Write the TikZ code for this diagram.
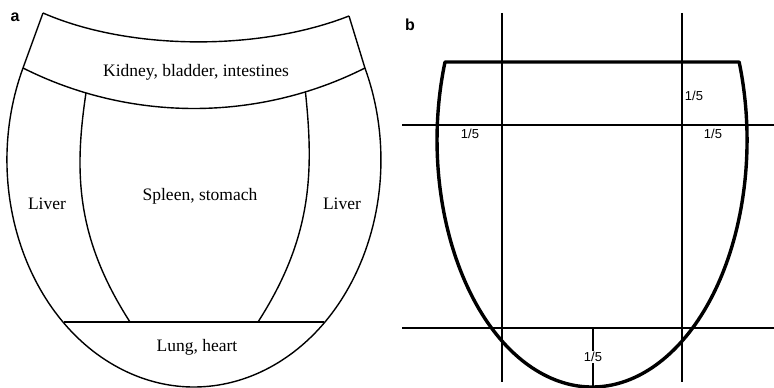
\documentclass[tikz,border=0pt]{standalone}
\usepackage{fontspec}
\setmainfont{Liberation Serif}
\setsansfont{Liberation Sans}
\usetikzlibrary{calc}

\begin{document}
\begin{tikzpicture}[x=1pt,y=1pt,line join=round,
  zoneline/.style={line width=1.4pt},
  gridline/.style={line width=1.4pt},
  heartline/.style={line width=3.4pt},
  organ/.style={font=\fontsize{17.5}{19}\selectfont},
  frac/.style={font=\sffamily\fontsize{13}{15}\selectfont},
  panel/.style={font=\sffamily\bfseries\fontsize{16}{18}\selectfont}]
\useasboundingbox (0,0) rectangle (774,388);
% panel a: zones of the tongue
\coordinate (tl) at (43,375);
\coordinate (tr) at (349,372);
\coordinate (ml) at (23,320);
\coordinate (mr) at (365,320);
\coordinate (hl) at (64,66);
\coordinate (hr) at (324,66);
\coordinate (sl) at (130,66);
\coordinate (sr) at (258,66);
\draw[zoneline] (tl) -- (ml) arc[start angle=156.1,end angle=383.9,x radius=187,y radius=227] -- (tr);
\draw[zoneline] (tl) .. controls (130,337) and (260,337) .. (tr);
\draw[zoneline] (ml) .. controls (130,266) and (258,266) .. (mr)
  coordinate[pos=0.19] (il) coordinate[pos=0.82] (ir);
\draw[zoneline] (il) .. controls (74,215) and (76,150) .. (sl);
\draw[zoneline] (ir) .. controls (314,215) and (312,150) .. (sr);
\draw[zoneline] (hl) -- (hr);
\node[panel] (pa) at (15,371) {a};
\node[organ] (kid) at (196,316) {Kidney, bladder, intestines};
\node[organ] (livl) at (47,184) {Liver};
\node[organ] (livr) at (342,184) {Liver};
\node[organ] (spl) at (200,192) {Spleen, stomach};
\node[organ] (lung) at (197,41) {Lung, heart};
% panel b: fifths of the outline
\coordinate (bl) at (445,326);
\coordinate (br) at (739,326);
\draw[heartline] (br) -- (bl) arc[start angle=161.6,end angle=378.4,x radius=155,y radius=247] -- cycle;
\foreach \gx in {502,682} {\draw[gridline] (\gx,375) -- (\gx,6);}
\foreach \gy in {263,60} {\draw[gridline] (402,\gy) -- (774,\gy);}
\draw[gridline] (593,60) -- (593,1);
\node[panel] (pb) at (410,363) {b};
\node[frac] (f1) at (470,254) {1/5};
\node[frac] (f2) at (694,292) {1/5};
\node[frac] (f3) at (713,254) {1/5};
\node[frac,fill=white,inner sep=1pt] (f4) at (593,31) {1/5};
\end{tikzpicture}
\end{document}
